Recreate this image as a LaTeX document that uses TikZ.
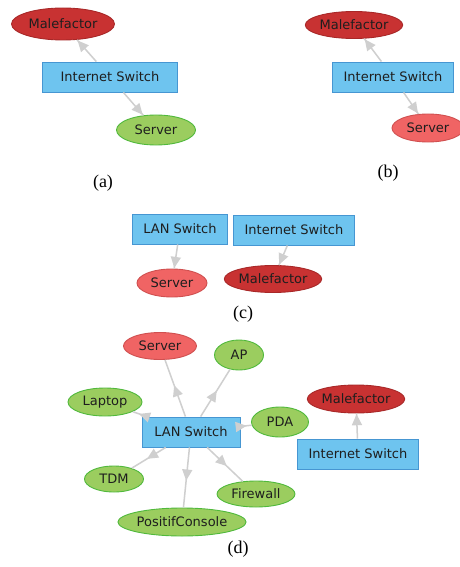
\documentclass[tikz,border=0pt]{standalone}
\usepackage{fontspec}
\setmainfont{DejaVu Sans}
\newfontfamily\capfont{Liberation Serif}
\usetikzlibrary{shapes.geometric,arrows.meta,decorations.markings}
\definecolor{boxblue}{HTML}{6EC4EF}
\definecolor{boxline}{HTML}{4696D2}
\definecolor{evilred}{HTML}{C83232}
\definecolor{evilline}{HTML}{A82828}
\definecolor{hitred}{HTML}{F06464}
\definecolor{hitline}{HTML}{D05050}
\definecolor{okgreen}{HTML}{9BCD5F}
\definecolor{okline}{HTML}{50B93C}
\definecolor{edgegray}{HTML}{CFCFCF}
\definecolor{txt}{HTML}{1E1E1E}
\tikzset{
  switchbox/.style={rectangle,draw=boxline,fill=boxblue,line width=0.9pt,
    inner xsep=11pt,minimum height=30pt,text=txt,font=\fontsize{13}{15}\selectfont},
  evil/.style={ellipse,draw=evilline,fill=evilred,line width=0.9pt,inner sep=0pt,
    minimum height=28pt,text=txt,font=\fontsize{13}{15}\selectfont},
  hit/.style={evil,draw=hitline,fill=hitred},
  safe/.style={evil,draw=okline,fill=okgreen},
  caption/.style={font=\capfont\fontsize{18}{20}\selectfont},
  link/.style={draw=edgegray,line width=1.5pt,
    decoration={markings,mark=at position #1 with {\arrow[edgegray]{Triangle[length=11pt,width=10pt]}}},
    postaction={decorate}},
  link/.default=0.97
}
\begin{document}
\begin{tikzpicture}[x=1pt,y=-1pt]
  \useasboundingbox[fill=white] (0,0) rectangle (459,567);
  % (a)
  \node[evil,minimum width=103pt,minimum height=32pt] (malA) at (63,24) {Malefactor};
  \node[switchbox,minimum width=135pt] (netA) at (110,77) {Internet Switch};
  \node[safe,minimum width=79pt,minimum height=30pt] (srvA) at (156,130) {Server};
  \node[caption] (capA) at (103,183) {(a)};
  \draw[link] (netA) -- (malA);
  \draw[link] (netA) -- (srvA);
  % (b)
  \node[evil,minimum width=95pt,minimum height=27pt] (malB) at (354,25) {Malefactor};
  \node[switchbox] (netB) at (393,77) {Internet Switch};
  \node[hit,minimum width=72pt] (srvB) at (428,128) {Server};
  \node[caption] (capB) at (388,173) {(b)};
  \draw[link] (netB) -- (malB);
  \draw[link] (netB) -- (srvB);
  % (c)
  \node[switchbox,minimum width=95pt] (lanC) at (180,229) {LAN Switch};
  \node[switchbox] (netC) at (294,230) {Internet Switch};
  \node[hit,minimum width=70pt] (srvC) at (172,283) {Server};
  \node[evil,minimum width=92pt,minimum height=27pt] (malC) at (273,279) {Malefactor};
  \node[caption] (capC) at (243,314) {(c)};
  \draw[link] (lanC) -- (srvC);
  \draw[link] (netC) -- (malC);
  % (d)
  \node[switchbox,minimum width=98pt] (lanD) at (191,432) {LAN Switch};
  \node[hit,minimum width=73pt,minimum height=27pt] (srvD) at (160,346) {Server};
  \node[safe,minimum width=49pt,minimum height=30pt] (apD) at (239,355) {AP};
  \node[safe,minimum width=74pt] (lapD) at (105,402) {Laptop};
  \node[safe,minimum width=57pt,minimum height=30pt] (pdaD) at (280,422) {PDA};
  \node[safe,minimum width=59pt,minimum height=26pt] (tdmD) at (114,479) {TDM};
  \node[safe,minimum width=78pt,minimum height=26pt] (fwD) at (256,494) {Firewall};
  \node[safe,minimum width=116pt] (conD) at (182,522) {PositifConsole};
  \node[evil,minimum width=96pt] (malD) at (356,399) {Malefactor};
  \node[switchbox] (netD) at (358,454) {Internet Switch};
  \node[caption] (capD) at (238,549) {(d)};
  \foreach \n in {srvD,apD,lapD,pdaD,tdmD,fwD,conD}
    \draw[link=0.55] (lanD) -- (\n);
  \draw[link] (netD) -- (malD);
\end{tikzpicture}
\end{document}
